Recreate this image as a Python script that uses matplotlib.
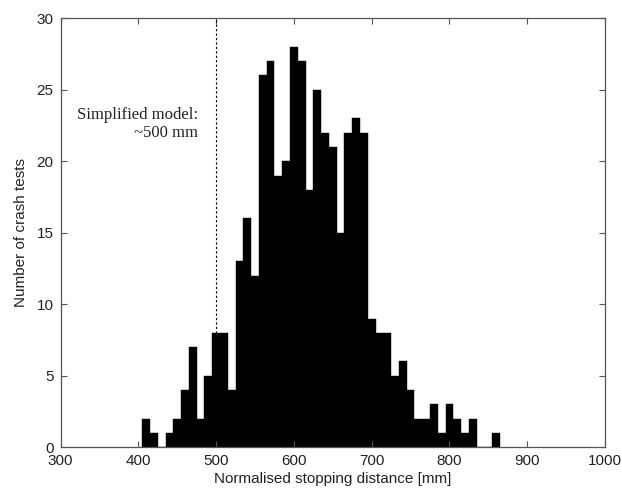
import numpy as np
import matplotlib
matplotlib.use("Agg")
import matplotlib.pyplot as plt

# Histogram of normalised stopping distances (10 mm bins, centres 410..860 mm)
bin_centres = np.arange(410, 861, 10)
counts = [2, 1, 0, 1, 2, 4, 7, 2, 5, 8,
          8, 4, 13, 16, 12, 26, 27, 19, 20, 28,
          27, 18, 25, 22, 21, 15, 22, 23, 22, 9,
          8, 8, 5, 6, 4, 2, 2, 3, 1, 3,
          2, 1, 2, 0, 0, 1]
bin_width = 10
model_distance = 500
x_ticks = [300, 400, 500, 600, 700, 800, 900, 1000]
y_ticks = [0, 5, 10, 15, 20, 25, 30]

plt.rcParams['font.family'] = ['Liberation Sans', 'DejaVu Sans']

fig = plt.figure(figsize=(6.22, 4.92), dpi=100)
ax = fig.add_axes([0.0973, 0.0909, 0.8754, 0.8719])

ax.bar(bin_centres, counts, width=bin_width, color='black', edgecolor='black',
       linewidth=0.3, align='center')

ax.set_xlim(300, 1000)
ax.set_ylim(0, 30)
ax.set_xticks(x_ticks)
ax.set_yticks(y_ticks)

# Reference line for the simplified model, from the bar top up to the frame
idx = int(np.argmin(np.abs(bin_centres - model_distance)))
ax.vlines(model_distance, counts[idx], 30, colors='black', linestyles=(0, (2, 2)),
          linewidth=0.8)
ax.text(model_distance - 23, 22.6, "Simplified model:\n~500 mm",
        family=['Liberation Serif', 'DejaVu Serif'], fontsize=12,
        ha='right', va='center', linespacing=1.2, color='#222222')

ax.tick_params(direction='in', top=True, right=True, length=4, width=0.8,
               labelsize=11, colors='#555555', labelcolor='#222222', pad=5)
for s in ax.spines.values():
    s.set_color('#555555')
    s.set_linewidth(0.9)

ax.set_xlabel("Normalised stopping distance [mm]", fontsize=11, color='#222222',
              labelpad=3)
ax.set_ylabel("Number of crash tests", fontsize=11, color='#222222', labelpad=6)

fig.savefig("out.png", dpi=100)
